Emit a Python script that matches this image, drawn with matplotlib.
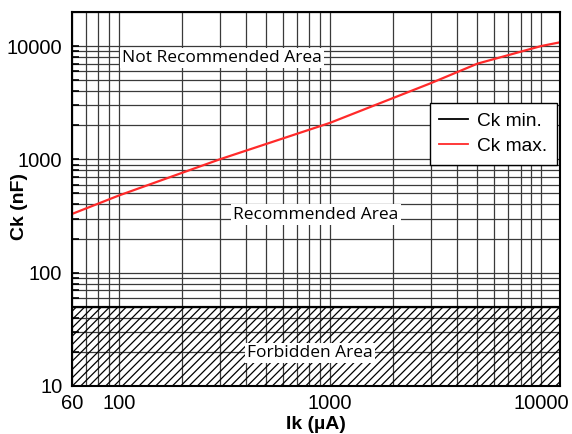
import matplotlib
matplotlib.use("Agg")
import matplotlib.pyplot as plt
from matplotlib.ticker import LogLocator, NullFormatter, FixedLocator, FixedFormatter

# Ck max curve
ik_max = [60, 100, 300, 1000, 3000, 5000, 10000, 12300]
ck_max = [330, 480, 1000, 2100, 4700, 7000, 10000, 10800]

# Ck min limit (top of the forbidden area)
ck_min_level = 50
forbidden_range = [10, 50]

x_ticks = [60, 100, 1000, 10000]
x_labels = ["60", "100", "1000", "10000"]
y_ticks = [10, 100, 1000, 10000]
y_labels = ["10", "100", "1000", "10000"]

x_limits = [60, 12300]
y_limits = [10, 20000]

area_font = ["Open Sans", "DejaVu Sans"]
plt.rcParams["font.family"] = ["Liberation Sans", "DejaVu Sans"]
plt.rcParams["hatch.linewidth"] = 0.9

fig = plt.figure(figsize=(5.72, 4.34), dpi=100)
ax = fig.add_axes([0.1259, 0.1106, 0.979 - 0.1259, 0.9724 - 0.1106])
ax.set_xscale("log")
ax.set_yscale("log")
ax.set_xlim(*x_limits)
ax.set_ylim(*y_limits)

ax.grid(True, which="both", color="#3a3a3a", linewidth=0.9, zorder=1)
ax.set_axisbelow(True)

# forbidden area
ax.fill_between(x_limits, forbidden_range[0], forbidden_range[1],
                facecolor="none", edgecolor="black", hatch="////",
                linewidth=0, zorder=2)
ax.plot(x_limits, [ck_min_level, ck_min_level], color="black",
        linewidth=1.6, zorder=3, label="Ck min.")
ax.plot(ik_max, ck_max, color="#ff2a2a", linewidth=1.6, zorder=4,
        label="Ck max.")

ax.xaxis.set_major_locator(FixedLocator(x_ticks))
ax.xaxis.set_major_formatter(FixedFormatter(x_labels))
ax.xaxis.set_minor_locator(LogLocator(base=10, subs=range(2, 10)))
ax.xaxis.set_minor_formatter(NullFormatter())
ax.yaxis.set_major_locator(FixedLocator(y_ticks))
ax.yaxis.set_major_formatter(FixedFormatter(y_labels))
ax.yaxis.set_minor_locator(LogLocator(base=10, subs=range(2, 10)))
ax.yaxis.set_minor_formatter(NullFormatter())

ax.tick_params(axis="both", which="both", direction="in", length=0,
               labelsize=14.5, pad=6)
ax.tick_params(axis="y", which="both", length=5, width=1.2, pad=7)

for s in ax.spines.values():
    s.set_linewidth(1.5)
    s.set_zorder(6)

ax.set_xlabel("Ik (\u00b5A)", fontsize=14, fontweight="bold", labelpad=2)
ax.set_ylabel("Ck (nF)", fontsize=14, fontweight="bold")
ax.yaxis.set_label_coords(-0.09, 0.48)

box = dict(facecolor="white", edgecolor="none", pad=1.5)
ax.text(308, 7800, "Not Recommended Area", ha="center", va="center",
        fontsize=12.5, family=area_font, bbox=box, zorder=5)
ax.text(860, 326, "Recommended Area", ha="center", va="center",
        fontsize=12.5, family=area_font, bbox=box, zorder=5)
ax.text(804, 19.6, "Forbidden Area", ha="center", va="center",
        fontsize=12.5, family=area_font, bbox=box, zorder=5)

leg = ax.legend(loc="upper right", bbox_to_anchor=(0.993, 0.757),
                fontsize=13.8, frameon=True, fancybox=False,
                edgecolor="black", framealpha=1, handlelength=1.5,
                handletextpad=0.45, borderpad=0.5, labelspacing=0.4,
                borderaxespad=0)
leg.get_frame().set_linewidth(1.0)
leg.set_zorder(7)
for h in leg.get_lines():
    h.set_linewidth(1.3)

fig.savefig("out.png", dpi=100)
